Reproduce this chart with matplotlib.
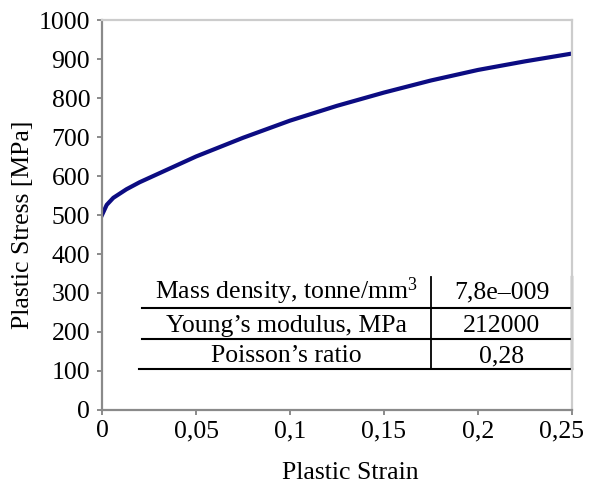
import matplotlib
matplotlib.use("Agg")
import matplotlib.pyplot as plt
import matplotlib.transforms as mtransforms

# values
strain = [0, 0.0025, 0.006, 0.013, 0.02, 0.035, 0.05, 0.075, 0.1,
          0.125, 0.15, 0.175, 0.2, 0.225, 0.25]
stress = [500, 526, 544, 566, 584, 617, 650, 698, 742,
          780, 814, 845, 872, 894, 914]

xticks = [0, 0.05, 0.1, 0.15, 0.2, 0.25]
xtick_labels = ["0", "0,05", "0,1", "0,15", "0,2", "0,25"]
yticks = list(range(0, 1001, 100))

props = ["Mass density, tonne/mm$^3$", "Young\u2019s modulus, MPa", "Poisson\u2019s ratio"]
values = ["7,8e\u2013009", "212000", "0,28"]

plt.rcParams['font.family'] = ['Liberation Serif', 'DejaVu Serif']
plt.rcParams['mathtext.fontset'] = 'custom'
plt.rcParams['mathtext.rm'] = 'Liberation Serif'
plt.rcParams['mathtext.default'] = 'regular'

FS = 18.5

fig = plt.figure(figsize=(5.89, 4.86), dpi=100)
ax = fig.add_axes([0.1732, 0.1564, 0.7979, 0.8024])

ax.plot(strain, stress, color='#0c0c82', lw=3.0, solid_joinstyle='round')

ax.set_xlim(0, 0.25)
ax.set_ylim(0, 1000)
ax.set_xticks(xticks)
ax.set_xticklabels(xtick_labels)
ax.set_yticks(yticks)

for s in ['left', 'bottom']:
    ax.spines[s].set_color('#8a8a8a')
    ax.spines[s].set_linewidth(1.6)
for s in ['top', 'right']:
    ax.spines[s].set_color('#cccccc')
    ax.spines[s].set_linewidth(1.6)

ax.tick_params(axis='both', direction='out', length=3.5, width=1.4,
               color='#8a8a8a', labelsize=FS)
ax.tick_params(axis='y', pad=5)
ax.tick_params(axis='x', pad=4)

# last x label is pulled left so it stays inside the figure
shift = mtransforms.ScaledTranslation(-10 / 100, 0, fig.dpi_scale_trans)
last = ax.get_xticklabels()[-1]
last.set_transform(last.get_transform() + shift)

ax.set_xlabel("Plastic Strain", fontsize=FS)
ax.xaxis.set_label_coords(0.528, -0.162)
ax.xaxis.label.set_va('center')
ax.set_ylabel("Plastic Stress [MPa]", fontsize=FS)
ax.yaxis.set_label_coords(-0.168, 0.474)
ax.yaxis.label.set_va('center')

# property table drawn inside the axes (data coords)
x_left = 0.0211
x_mid = 0.175
x_right = 0.25
row_lines = [262, 183, 106]
row_base = [286, 201, 123]
table_top = 341

for i, y in enumerate(row_lines):
    xl = 0.0197 if i == len(row_lines) - 1 else x_left
    ax.plot([xl, x_right], [y, y], color='black', lw=1.5, clip_on=False)
ax.plot([x_mid, x_mid], [row_lines[-1], table_top], color='black', lw=1.3)
ax.plot([x_right, x_right], [row_lines[-1], table_top], color='black', lw=1.6,
        clip_on=False)

for name, val, y in zip(props, values, row_base):
    ax.text((x_left + x_mid) / 2, y, name, ha='center', va='baseline', fontsize=FS)
    ax.text((x_mid + x_right) / 2, y, val, ha='center', va='baseline', fontsize=FS)

fig.savefig("out.png", dpi=100)
